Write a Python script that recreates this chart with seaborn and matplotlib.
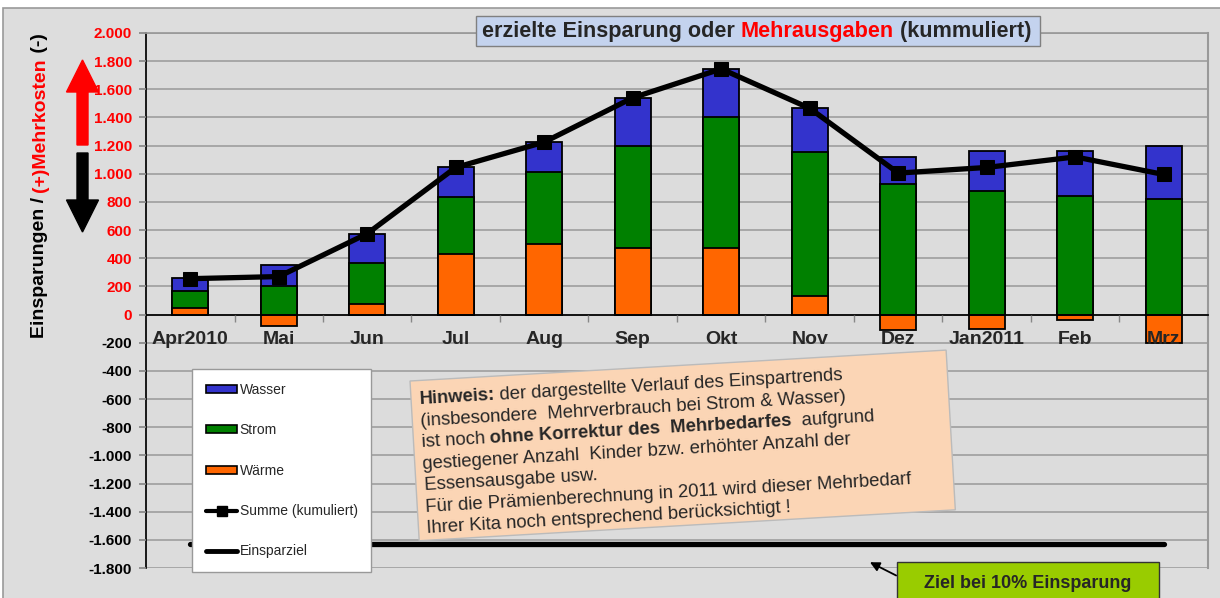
import numpy as np
import matplotlib
matplotlib.use('Agg')
import matplotlib.pyplot as plt
import matplotlib.transforms as mtransforms
import seaborn as sns
from matplotlib.patches import Patch, Rectangle, FancyArrow
from matplotlib.lines import Line2D

# data
monate = ['Apr2010', 'Mai', 'Jun', 'Jul', 'Aug', 'Sep', 'Okt', 'Nov', 'Dez', 'Jan2011', 'Feb', 'Mrz']
waerme = [50, -78, 75, 430, 500, 470, 470, 135, -110, -105, -35, -205]
strom = [120, 200, 290, 405, 515, 730, 930, 1020, 930, 880, 845, 820]
wasser = [90, 150, 210, 210, 210, 340, 345, 315, 190, 280, 315, 380]
summe = [255, 270, 575, 1045, 1225, 1540, 1745, 1465, 1005, 1045, 1120, 995]
einsparziel = -1630
yticks = list(range(-1800, 2001, 200))

c_wasser = '#3333cc'
c_strom = '#008000'
c_waerme = '#ff6600'

sns.set_theme(style='white')
plt.rcParams['font.family'] = ['Liberation Sans', 'DejaVu Sans']

fig = plt.figure(figsize=(12.2, 5.98), dpi=100, facecolor='white')
fig.patches.append(Rectangle((3 / 1220, -0.01), 1.0, 1 - 8 / 598 + 0.01, transform=fig.transFigure,
                             facecolor='#dddddd', edgecolor='#999999', lw=1.2, zorder=-5))
ax = fig.add_axes([146 / 1220, 1 - 568 / 598, 1062 / 1220, 535 / 598])
ax.set_facecolor('#dcdcdc')

# horizontal grid behind the bars
for v in yticks:
    ax.axhline(v, color='#999999', lw=1.1, zorder=0.5)

# stacked bars: positive parts stack upward from 0, negative Waerme goes down
pos_w = np.clip(waerme, 0, None)
top_strom = pos_w + np.array(strom)
top_wasser = top_strom + np.array(wasser)

bar_kw = dict(width=0.41, edgecolor='black', linewidth=1.3, saturation=1, errorbar=None, ax=ax)
sns.barplot(x=monate, y=top_wasser, color=c_wasser, **bar_kw)
sns.barplot(x=monate, y=top_strom, color=c_strom, **bar_kw)
sns.barplot(x=monate, y=waerme, color=c_waerme, **bar_kw)

pos = np.arange(len(monate))
sns.lineplot(x=pos, y=summe, color='black', lw=3.8, marker='s', markersize=10,
             markeredgecolor='black', ax=ax, zorder=4)
sns.lineplot(x=[pos[0], pos[-1]], y=[einsparziel, einsparziel], color='black', lw=3.8,
             solid_capstyle='round', ax=ax, zorder=4)

ax.set_axisbelow(False)
ax.set_xlim(-0.5, len(monate) - 0.5)
ax.set_ylim(-1800, 2000)
ax.set_yticks(yticks)
ax.set_yticklabels([f'{v:,}'.replace(',', '.') for v in yticks], fontsize=11, fontweight='bold')
for v, lab in zip(yticks, ax.get_yticklabels()):
    lab.set_color('red' if v >= 0 else 'black')
ax.grid(False)
ax.tick_params(axis='y', length=5, color='#888888', pad=5, left=True)

ax.spines['bottom'].set_position(('data', 0))
ax.spines['bottom'].set_color('black')
ax.spines['left'].set_color('black')
ax.spines['top'].set_color('#999999')
ax.spines['right'].set_color('#999999')
ax.spines['right'].set_linewidth(1.5)
ax.set_xticks(pos)
ax.set_xticklabels(monate, fontsize=14, fontweight='bold')
ax.set_xticks(np.arange(0.5, len(monate) - 1, 1), minor=True)
ax.tick_params(axis='x', which='major', length=0, pad=12, bottom=True)
ax.tick_params(axis='x', which='minor', length=5, color='#888888', bottom=True)
ax.set_xlabel('')
ax.set_ylabel('')

# legend
handles = [Patch(facecolor=c_wasser, edgecolor='black', lw=1.2),
           Patch(facecolor=c_strom, edgecolor='black', lw=1.2),
           Patch(facecolor=c_waerme, edgecolor='black', lw=1.2),
           Line2D([], [], color='black', lw=3, marker='s', markersize=7),
           Line2D([], [], color='black', lw=3.5)]
labels = ['Wasser', 'Strom', 'Wärme', 'Summe (kumuliert)', 'Einsparziel']
leg = ax.legend(handles, labels, loc='lower left', bbox_to_anchor=(0.043, -0.008), borderaxespad=0,
                fontsize=10, labelspacing=1.9, handlelength=2.3, handleheight=0.5, handletextpad=0.15,
                borderpad=1.0, fancybox=False, frameon=True, framealpha=1)
leg.get_frame().set_facecolor('white')
leg.get_frame().set_edgecolor('#999999')
leg.set_zorder(6)

renderer = fig.canvas.get_renderer()
px = mtransforms.IdentityTransform()

# y-axis label with red middle part
t1 = fig.text(40 / 1220, 1 - 338 / 598, 'Einsparungen / ', rotation=90, ha='center', va='bottom',
              fontsize=14, fontweight='bold', color='black')
t2 = fig.text(0, 0, '(+)Mehrkosten', rotation=90, ha='center', va='bottom',
              fontsize=14, fontweight='bold', color='red')
t3 = fig.text(0, 0, ' (-)', rotation=90, ha='center', va='bottom',
              fontsize=14, fontweight='bold', color='black')
bb1 = t1.get_window_extent(renderer)
t2.set_position((bb1.x0 + bb1.width / 2, bb1.y1))
t2.set_transform(px)
bb2 = t2.get_window_extent(renderer)
t3.set_position((bb2.x0 + bb2.width / 2, bb2.y1))
t3.set_transform(px)

# arrows next to the y label
fig.patches.append(FancyArrow(0.825, 4.53, 0, 0.85, width=0.11, head_width=0.32, head_length=0.32,
                              length_includes_head=True, color='red', transform=fig.dpi_scale_trans))
fig.patches.append(FancyArrow(0.825, 4.45, 0, -0.79, width=0.11, head_width=0.32, head_length=0.32,
                              length_includes_head=True, color='black', transform=fig.dpi_scale_trans))

# title box
fig.patches.append(Rectangle((476 / 1220, 1 - 46 / 598), 564 / 1220, 30 / 598, transform=fig.transFigure,
                             facecolor='#c4d3ee', edgecolor='#808080', lw=1, zorder=2))
tt1 = fig.text(482 / 1220, 1 - 31 / 598, 'erzielte Einsparung oder ', ha='left', va='center',
               fontsize=15.6, fontweight='bold', zorder=3)
tt2 = fig.text(0, 0, 'Mehrausgaben', ha='left', va='bottom', fontsize=15.6, fontweight='bold',
               color='red', zorder=3)
tt3 = fig.text(0, 0, ' (kummuliert)', ha='left', va='bottom', fontsize=15.6, fontweight='bold', zorder=3)
b = tt1.get_window_extent(renderer)
tt2.set_position((b.x1, b.y0))
tt2.set_transform(px)
b = tt2.get_window_extent(renderer)
tt3.set_position((b.x1, b.y0))
tt3.set_transform(px)

# note box, slightly rotated, one text per line so spacing stays even
hinweis = [
    [('Hinweis:', 'bold'), (' der dargestellte Verlauf des Einspartrends', 'normal')],
    [('(insbesondere  Mehrverbrauch bei Strom & Wasser)', 'normal')],
    [('ist noch ', 'normal'), ('ohne Korrektur des  Mehrbedarfes', 'bold'), ('  aufgrund', 'normal')],
    [('gestiegener Anzahl  Kinder bzw. erhöhter Anzahl der', 'normal')],
    [('Essensausgabe usw.', 'normal')],
    [('Für die Prämienberechnung in 2011 wird dieser Mehrbedarf', 'normal')],
    [('Ihrer Kita noch entsprechend berücksichtigt !', 'normal')],
]
ang = 3.3
th = np.deg2rad(ang)
u = np.array([np.cos(th), np.sin(th)])
vdn = np.array([np.sin(th), -np.cos(th)])
top_left = np.array([410.0, 598 - 381.0])
box_w, box_h = 537, 160
lower_left = top_left + box_h * vdn
fig.patches.append(Rectangle(lower_left, box_w, box_h, angle=ang, transform=px,
                             facecolor='#fbd5b5', edgecolor='#bbbbbb', lw=1, zorder=7))
for i, parts in enumerate(hinweis):
    p = top_left + 8 * u + (24 + i * 21.5) * vdn
    for s, w in parts:
        fig.text(p[0], p[1], s, rotation=ang, rotation_mode='anchor', ha='left', va='baseline',
                 fontsize=13.3, fontweight=w, transform=px, zorder=8)
        tmp = fig.text(0, 0, s, fontsize=13.3, fontweight=w)
        p = p + tmp.get_window_extent(renderer).width * u
        tmp.remove()

# target annotation
ax.annotate('   Ziel bei 10% Einsparung   ', xy=(7.68, -1759), xycoords='data',
            xytext=(1028 / 1220, 1 - 583 / 598), textcoords='figure fraction',
            ha='center', va='center', fontsize=13, fontweight='bold', annotation_clip=False,
            bbox=dict(boxstyle='square,pad=0.7', facecolor='#99cc00', edgecolor='#333333', lw=1),
            arrowprops=dict(arrowstyle='-|>', color='black', lw=1.3, relpos=(0, 0.55),
                            shrinkA=0, shrinkB=0, mutation_scale=14),
            zorder=7)

fig.savefig('out.png', dpi=100)
